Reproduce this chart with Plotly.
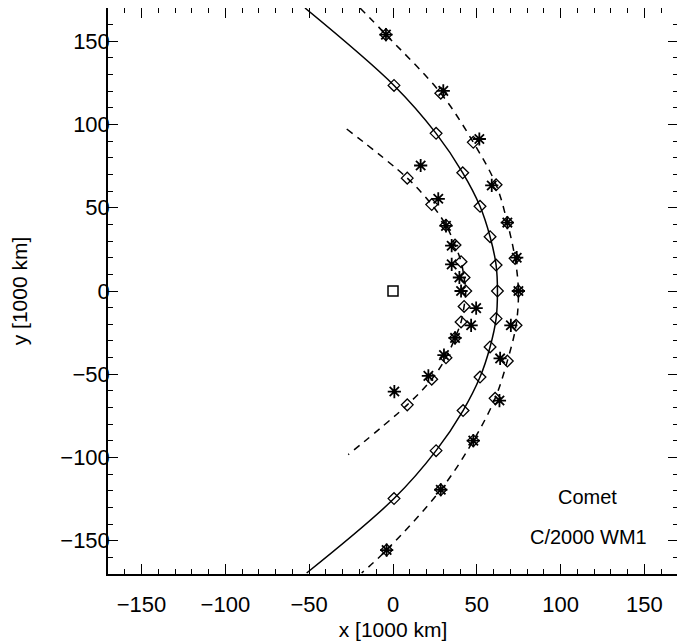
import plotly.graph_objects as go

# model curves, units of 1000 km
solid_x = [-52.5, 0.6, 25.7, 41.6, 51.9, 57.9, 61.5, 62.3, 61.5, 57.9, 51.9, 41.8, 25.7, 0.6, -51.5]
solid_y = [170.0, 123.5, 94.7, 71.0, 50.9, 32.6, 15.6, 0.0, -16.6, -33.6, -51.7, -71.8, -95.9, -124.7, -169.4]

outer_x = [-19.7, -4.2, 28.5, 47.9, 61.5, 68.2, 72.8, 74.8, 73.4, 68.2, 60.9, 47.9, 28.5, -3.8, -18.7]
outer_y = [170.0, 154.0, 118.8, 89.3, 63.8, 41.1, 19.6, 0.0, -20.6, -42.1, -64.5, -89.9, -119.4, -155.6, -169.4]

inner_x = [-27.6, 8.5, 23.1, 31.6, 37.0, 40.6, 42.4, 43.4, 42.4, 40.6, 37.0, 31.6, 23.1, 8.5, -26.7]
inner_y = [97.3, 67.8, 51.9, 39.5, 27.6, 17.6, 8.1, 0.0, -9.3, -18.6, -28.2, -40.1, -53.0, -68.4, -98.3]

# model points (diamonds)
dia_solid_x = [0.6, 25.7, 41.6, 51.9, 57.9, 61.5, 62.3, 61.5, 57.9, 51.9, 41.8, 25.7, 0.6]
dia_solid_y = [123.5, 94.7, 71.0, 50.9, 32.6, 15.6, 0.0, -16.6, -33.6, -51.7, -71.8, -95.9, -124.7]
dia_outer_x = [-4.2, 28.5, 47.9, 61.5, 68.2, 72.8, 74.8, 73.4, 68.2, 60.9, 47.9, 28.5, -3.8]
dia_outer_y = [154.0, 118.8, 89.3, 63.8, 41.1, 19.6, 0.0, -20.6, -42.1, -64.5, -89.9, -119.4, -155.6]
dia_inner_x = [8.5, 23.1, 31.6, 37.0, 40.6, 42.4, 43.4, 42.4, 40.6, 37.0, 31.6, 23.1, 8.5]
dia_inner_y = [67.8, 51.9, 39.5, 27.6, 17.6, 8.1, 0.0, -9.3, -18.6, -28.2, -40.1, -53.0, -68.4]

# observed points (asterisks)
obs_outer_x = [-4.2, 30.0, 51.5, 58.9, 68.2, 73.8, 74.8, 70.3, 63.9, 63.5, 47.9, 28.5, -3.8]
obs_outer_y = [154.0, 120.2, 91.3, 63.4, 41.1, 20.0, 0.0, -20.6, -40.5, -65.8, -89.9, -119.4, -155.6]
obs_inner_x = [16.5, 27.0, 31.6, 35.0, 35.0, 39.6, 40.6, 49.6, 46.6, 37.0, 30.4, 21.1, 0.8]
obs_inner_y = [75.4, 55.4, 39.1, 27.2, 16.0, 8.1, 0.0, -10.3, -20.6, -28.2, -38.5, -51.0, -60.4]

nucleus_x = [0]
nucleus_y = [0]

FONT = "Liberation Sans, Arial, sans-serif"

fig = go.Figure()

fig.add_trace(go.Scatter(x=solid_x, y=solid_y, mode="lines", line=dict(color="black", width=1.5, shape="spline")))
fig.add_trace(go.Scatter(x=outer_x, y=outer_y, mode="lines",
                         line=dict(color="black", width=1.5, shape="spline", dash="7px,6px")))
fig.add_trace(go.Scatter(x=inner_x, y=inner_y, mode="lines",
                         line=dict(color="black", width=1.5, shape="spline", dash="7px,6px")))

for dx, dy in [(dia_solid_x, dia_solid_y), (dia_outer_x, dia_outer_y), (dia_inner_x, dia_inner_y)]:
    fig.add_trace(go.Scatter(x=dx, y=dy, mode="markers",
                             marker=dict(symbol="diamond-open", size=9, color="black", line=dict(width=1.3, color="black"))))

for ox, oy in [(obs_outer_x, obs_outer_y), (obs_inner_x, obs_inner_y)]:
    fig.add_trace(go.Scatter(x=ox, y=oy, mode="markers",
                             marker=dict(symbol="asterisk-open", size=11, color="black", line=dict(width=1.8, color="black"))))

fig.add_trace(go.Scatter(x=nucleus_x, y=nucleus_y, mode="markers",
                         marker=dict(symbol="square-open", size=10, color="black", line=dict(width=1.5, color="black"))))

fig.add_annotation(x=115.8, y=-124, text="Comet", showarrow=False, font=dict(size=20, color="black", family=FONT))
fig.add_annotation(x=116.4, y=-148, text="C/2000 WM1", showarrow=False, font=dict(size=20, color="black", family=FONT))

axis = dict(range=[-170, 170], tickmode="linear", tick0=-150, dtick=50, ticks="inside", ticklen=10,
            tickwidth=1.3, tickcolor="black", showline=True, linecolor="black", linewidth=1.5,
            mirror="allticks", showgrid=False, zeroline=False, automargin=False,
            minor=dict(dtick=10, ticks="inside", ticklen=5, tickwidth=1, tickcolor="black", showgrid=False),
            tickfont=dict(size=22, color="black", family=FONT))

fig.update_xaxes(**axis, ticklabelstandoff=10,
                 title=dict(text="x [1000 km]", font=dict(size=21, color="black", family=FONT), standoff=6))
fig.update_yaxes(**axis, ticklabelstandoff=-8,
                 title=dict(text="y [1000 km]", font=dict(size=21, color="black", family=FONT), standoff=32))

# the page body adds an 8 px offset, so the figure is sized to fit the window
fig.update_layout(width=677, height=636, showlegend=False,
                  plot_bgcolor="white", paper_bgcolor="white",
                  margin=dict(l=100, r=7, t=0, b=70))

fig.write_html("out.html")
